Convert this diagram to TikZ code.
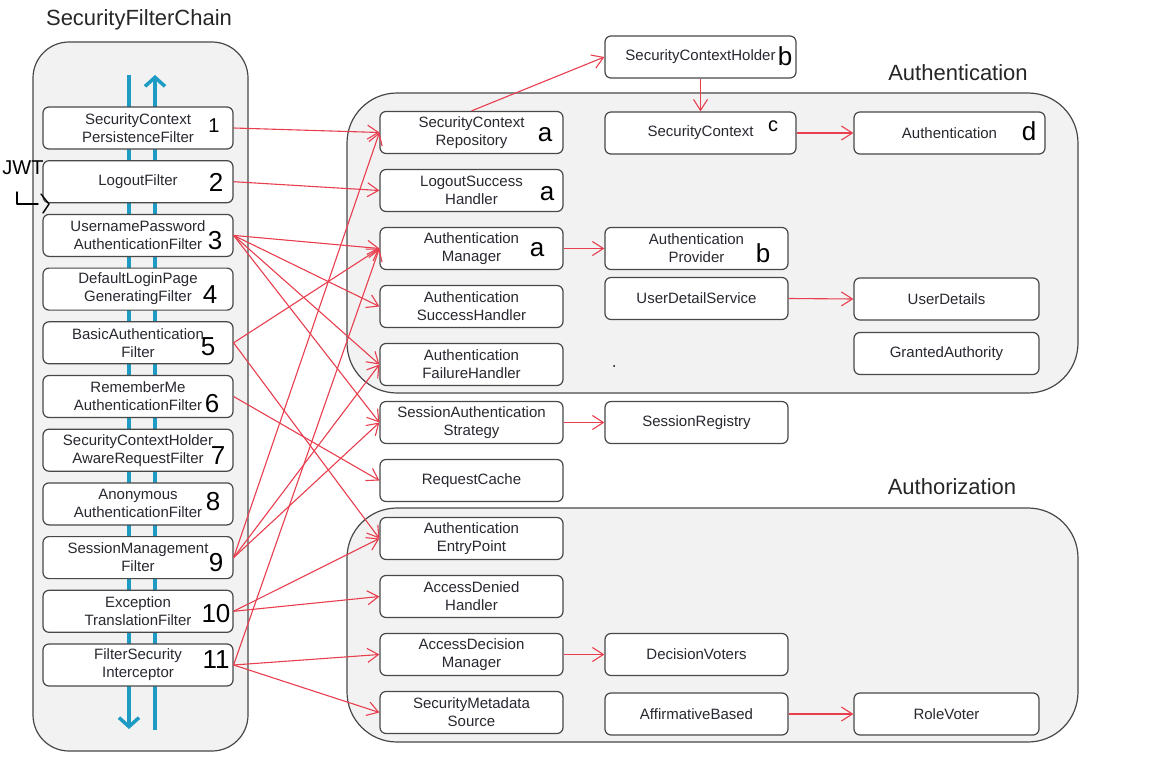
\documentclass[tikz,border=0pt]{standalone}
\usepackage{fontspec}
\setmainfont{Liberation Sans}
\usetikzlibrary{arrows.meta}
\definecolor{linkred}{RGB}{232,62,78}
\definecolor{flowblue}{RGB}{30,155,195}
\definecolor{panelgray}{RGB}{242,242,242}
\definecolor{edgegray}{RGB}{72,72,72}
\definecolor{textgray}{RGB}{40,40,48}
\begin{document}
\begin{tikzpicture}[x=1pt,y=-1pt,
  box/.style={draw=edgegray, line width=1.2pt, fill=white, rounded corners=6pt,
    minimum height=42pt, inner sep=0pt, align=center,
    font=\fontsize{15}{18}\selectfont, text=textgray},
  fbox/.style={box, minimum width=190pt},
  mbox/.style={box, minimum width=183pt},
  wbox/.style={box, minimum width=191pt},
  rbox/.style={box, minimum width=185pt},
  panel/.style={draw=edgegray, line width=1.2pt, fill=panelgray},
  title/.style={font=\fontsize{22}{26}\selectfont, text=black!85},
  link/.style={draw=linkred, line width=1.1pt, -{Straight Barb[length=11pt,width=14pt]}},
  flow/.style={draw=flowblue, line width=3.5pt},
  hand/.style={font=\fontsize{26}{26}\selectfont, text=black, inner sep=0pt},
  smallhand/.style={font=\fontsize{20}{20}\selectfont, text=black, inner sep=0pt},
  pen/.style={draw=black, line width=1.4pt, line cap=round, line join=round},
]
\useasboundingbox (0,0) rectangle (1152,784);

% group panels
\draw[panel, rounded corners=36pt] (33,42) rectangle (248,751);
\draw[panel, rounded corners=50pt] (347,93) rectangle (1078,393);
\draw[panel, rounded corners=50pt] (347,508) rectangle (1078,742);

\node[title] (tchain) at (139,20) {SecurityFilterChain};
\node[title] (tauthn) at (958,73) {Authentication};
\node[title] (tauthz) at (952,487) {Authorization};

% request / response flow through the chain
\coordinate (downtop) at (129,75);
\coordinate (downend) at (129,729);
\coordinate (upbot) at (155,730);
\coordinate (uptop) at (155,75);
\draw[flow, -{Straight Barb[length=9pt,width=20pt]}] (downtop) -- (downend);
\draw[flow, -{Straight Barb[length=9pt,width=20pt]}] (upbot) -- (uptop);

% filters
\node[fbox] (f1)  at (138,128)   {SecurityContext\\PersistenceFilter};
\node[fbox] (f2)  at (138,181.7) {LogoutFilter};
\node[fbox] (f3)  at (138,235.4) {UsernamePassword\\AuthenticationFilter};
\node[fbox] (f4)  at (138,289.1) {DefaultLoginPage\\GeneratingFilter};
\node[fbox] (f5)  at (138,342.8) {BasicAuthentication\\Filter};
\node[fbox] (f6)  at (138,396.5) {RememberMe\\AuthenticationFilter};
\node[fbox] (f7)  at (138,450.2) {SecurityContextHolder\\AwareRequestFilter};
\node[fbox] (f8)  at (138,503.9) {Anonymous\\AuthenticationFilter};
\node[fbox] (f9)  at (138,557.6) {SessionManagement\\Filter};
\node[fbox] (f10) at (138,611.3) {Exception\\TranslationFilter};
\node[fbox] (f11) at (138,665)   {FilterSecurity\\Interceptor};

% collaborators
\node[mbox] (m1)  at (471.5,132.5) {SecurityContext\\Repository};
\node[mbox] (m2)  at (471.5,190.5) {LogoutSuccess\\Handler};
\node[mbox] (m3)  at (471.5,248.5) {Authentication\\Manager};
\node[mbox] (m4)  at (471.5,306.5) {Authentication\\SuccessHandler};
\node[mbox] (m5)  at (471.5,364.5) {Authentication\\FailureHandler};
\node[mbox] (m6)  at (471.5,422.5) {SessionAuthentication\\Strategy};
\node[mbox] (m7)  at (471.5,480.5) {RequestCache};
\node[mbox] (m8)  at (471.5,538.5) {Authentication\\EntryPoint};
\node[mbox] (m9)  at (471.5,596.5) {AccessDenied\\Handler};
\node[mbox] (m10) at (471.5,654.5) {AccessDecision\\Manager};
\node[mbox] (m11) at (471.5,712.5) {SecurityMetadata\\Source};

\node[wbox] (sch)  at (700.5,57)    {SecurityContextHolder};
\node[wbox] (sc)   at (700.5,133)   {SecurityContext};
\node[mbox] (prov) at (696.5,248.5) {Authentication\\Provider};
\node[mbox] (uds)  at (696.5,298.5) {UserDetailService};
\node[mbox] (sreg) at (696.5,422.5) {SessionRegistry};
\node[mbox] (dv)   at (696.5,654.5) {DecisionVoters};
\node[mbox] (aff)  at (696.5,714)   {AffirmativeBased};

\node[wbox] (auth) at (949.5,133)   {Authentication};
\node[rbox] (ud)   at (946.5,299)   {UserDetails};
\node[rbox] (ga)   at (946.5,353.5) {GrantedAuthority};
\node[rbox] (rv)   at (946.5,714)   {RoleVoter};

% filter -> collaborator links
\draw[link] (f1.east) -- (m1.west);
\draw[link] (f2.east) -- (m2.west);
\draw[link] (f3.east) -- (m3.west);
\draw[link] (f3.east) -- (m4.west);
\draw[link] (f3.east) -- (m5.west);
\draw[link] (f3.east) -- (m6.west);
\draw[link] (f5.east) -- (m3.west);
\draw[link] (f5.east) -- (m8.west);
\draw[link] (f6.east) -- (m7.west);
\draw[link] (f9.east) -- (m1.west);
\draw[link] (f9.east) -- (m5.west);
\draw[link] (f9.east) -- (m6.west);
\draw[link] (f10.east) -- (m8.west);
\draw[link] (f10.east) -- (m9.west);
\draw[link] (f11.east) -- (m3.west);
\draw[link] (f11.east) -- (m10.west);
\draw[link] (f11.east) -- (m11.west);

% collaborator -> collaborator links
\draw[link] (m1.north) -- (sch.west);
\draw[link] (sch.south) -- (sc.north);
\draw[link] (sc.east) -- (auth.west);
\draw[link] (m3.east) -- (prov.west);
\draw[link] (uds.east) -- (ud.west);
\draw[link] (m6.east) -- (sreg.west);
\draw[link] (m10.east) -- (dv.west);
\draw[link] (aff.east) -- (rv.west);

% handwritten numbering
\node[smallhand] (n1)  at (214,126) {1};
\node[hand] (n2)  at (216,182) {2};
\node[hand] (n3)  at (215,241) {3};
\node[hand] (n4)  at (210,295) {4};
\node[hand] (n5)  at (208,347) {5};
\node[hand] (n6)  at (212,404) {6};
\node[hand] (n7)  at (218,456) {7};
\node[hand] (n8)  at (213,502) {8};
\node[hand] (n9)  at (216,563) {9};
\node[hand] (n10) at (216,614) {10};
\node[hand] (n11) at (216,660) {11};
\node[hand] (la1) at (545,135) {a};
\node[hand] (la2) at (547,194) {a};
\node[hand] (la3) at (537,250) {a};
\node[hand] (lb1) at (785,56)  {b};
\node[smallhand] (lc)  at (773,126) {c};
\node[hand] (ld)  at (1029,131) {d};
\node[hand] (lb2) at (763,253) {b};
\node[smallhand] (jwt) at (23,168) {JWT};

% hand-drawn pointer below the JWT note
\coordinate (pa) at (17,192);
\coordinate (pb) at (17,204);
\coordinate (pc) at (38,204);
\coordinate (pd) at (41,194);
\coordinate (pe) at (49,204);
\coordinate (pf) at (43,213);
\draw[pen] (pa) -- (pb) -- (pc);
\draw[pen] (pd) -- (pe) -- (pf);

% stray dot
\fill[black] (614,366) circle (1pt);
\end{tikzpicture}
\end{document}
